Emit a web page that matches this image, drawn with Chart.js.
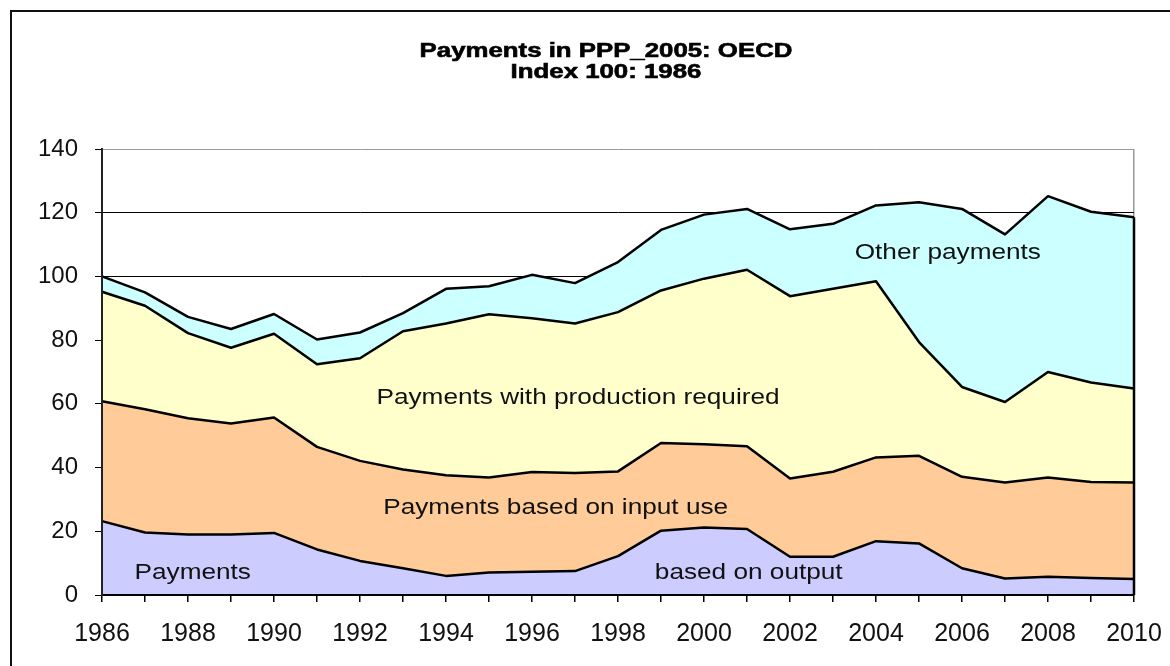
<!DOCTYPE html>
<html><head><meta charset="utf-8">
<script src="https://cdn.jsdelivr.net/npm/chart.js@4"></script>
<style>
html,body{margin:0;padding:0;background:#fff;overflow:hidden;}
#wrap{position:relative;width:1170px;height:666px;}
#frame{position:absolute;left:10px;top:10px;width:1400px;height:900px;border-left:2px solid #111;border-top:2px solid #111;pointer-events:none;}
canvas{display:block;}
</style></head><body>
<div id="wrap"><canvas id="c" width="1170" height="666"></canvas><div id="frame"></div></div>
<script>
const years = ['1986','1987','1988','1989','1990','1991','1992','1993','1994','1995','1996','1997','1998','1999','2000','2001','2002','2003','2004','2005','2006','2007','2008','2009','2010'];
const basedOnOutput = [23.2,19.6,19.0,19.0,19.5,14.3,10.7,8.4,6.0,7.1,7.3,7.5,12.2,20.2,21.2,20.7,12.0,12.0,16.9,16.2,8.4,5.2,5.7,5.3,5.0];
const basedOnInputUse = [37.6,38.7,36.5,34.8,36.2,32.2,31.4,31.0,31.6,29.8,31.3,30.8,26.6,27.5,26.1,26.0,24.6,26.7,26.3,27.5,28.7,30.1,31.2,30.2,30.3];
const withProductionRequired = [34.4,32.5,26.7,23.8,26.3,25.9,32.2,43.4,47.6,51.2,48.3,46.9,50.0,47.9,52.0,55.4,57.2,57.4,55.3,35.7,28.2,25.3,33.1,31.2,29.5];
const otherPayments = [4.8,4.2,5.1,5.9,6.2,7.8,8.1,5.7,10.9,8.8,13.6,12.7,15.7,19.0,20.1,19.1,21.0,20.4,23.8,43.9,55.9,52.6,55.2,53.6,53.8];
const yTicks = [0,20,40,60,80,100,120,140];
const titleLines = ['Payments in PPP_2005: OECD','Index 100: 1986'];
const areaLabels = [
  {text:'Other payments', x:19.67, y:107.3},
  {text:'Payments with production required', x:11.07, y:61.8},
  {text:'Payments based on input use', x:10.55, y:27.3},
  {text:'Payments', x:2.11, y:6.9},
  {text:'based on output', x:15.04, y:6.9}
];

const FONT = '"Liberation Sans", Arial, sans-serif';

const decor = {
  id:'decor',
  afterDatasetsDraw(chart){
    const ctx = chart.ctx, xs = chart.scales.x, ys = chart.scales.y;
    const meta = chart.getDatasetMeta(3);
    const last = meta.data[meta.data.length-1];
    ctx.save();
    ctx.strokeStyle = '#000'; ctx.lineWidth = 2.5;
    ctx.beginPath(); ctx.moveTo(last.x, last.y); ctx.lineTo(last.x, ys.getPixelForValue(0)); ctx.stroke();
    ctx.fillStyle = '#111';
    ctx.font = '22px ' + FONT;
    ctx.textAlign = 'center'; ctx.textBaseline = 'middle';
    areaLabels.forEach(a=>{
      const px = xs.getPixelForValue(a.x), py = ys.getPixelForValue(a.y);
      ctx.save(); ctx.translate(px, py); ctx.scale(1.19,1); ctx.fillText(a.text,0,0); ctx.restore();
    });
    ctx.font = 'bold 20px ' + FONT;
    ctx.textBaseline = 'alphabetic';
    ctx.strokeStyle = '#000'; ctx.lineWidth = 0.6; ctx.fillStyle = '#000';
    titleLines.forEach((t,i)=>{
      ctx.save(); ctx.translate(606, 57 + i*20.5); ctx.scale(1.29,1);
      ctx.fillText(t,0,0); ctx.strokeText(t,0,0); ctx.restore();
    });
    ctx.restore();
  }
};

const ds = (label, data, color, fill) => ({
  label, data, backgroundColor: color, borderColor:'#000', borderWidth:2.5,
  fill, pointRadius:0, tension:0, borderJoinStyle:'round'
});

new Chart(document.getElementById('c'), {
  type:'line',
  data:{
    labels: years,
    datasets:[
      ds('Payments based on output', basedOnOutput, '#CCCCFF', 'origin'),
      ds('Payments based on input use', basedOnInputUse, '#FFCC99', '-1'),
      ds('Payments with production required', withProductionRequired, '#FFFFCC', '-1'),
      ds('Other payments', otherPayments, '#CCFFFF', '-1')
    ]
  },
  options:{
    responsive:false, animation:false, devicePixelRatio:1,
    layout:{padding:{top:149,left:0,right:36,bottom:0}},
    plugins:{legend:{display:false}, title:{display:false}, tooltip:{enabled:false}},
    scales:{
      x:{
        offset:false,
        afterFit(s){ s.height = 71; s.paddingLeft = 0; s.paddingRight = 0; },
        grid:{
          color: c => (c.index === years.length-1 ? '#9a9a9a' : 'rgba(0,0,0,0)'),
          tickColor:'#000', tickLength:7, lineWidth:1.5
        },
        border:{color:'#000', width:2, z:1},
        ticks:{
          autoSkip:false, maxRotation:0, padding:17, color:'#111',
          font:{family:FONT, size:25},
          callback:(v,i)=> (i % 2 === 0 ? years[i] : '')
        }
      },
      y:{
        stacked:true, min:0, max:140,
        afterFit(s){ s.width = 102; s.paddingTop = 0; s.paddingBottom = 0; },
        afterBuildTicks(s){ s.ticks = yTicks.map(v=>({value:v})); },
        grid:{
          color: c => (c.tick && c.tick.value === 140 ? '#9a9a9a' : '#000'),
          tickColor:'#000', tickLength:7, lineWidth:1
        },
        border:{color:'#222', width:2, z:1},
        ticks:{padding:17, color:'#111', font:{family:FONT, size:24}}
      }
    }
  },
  plugins:[decor]
});
</script>
</body></html>
